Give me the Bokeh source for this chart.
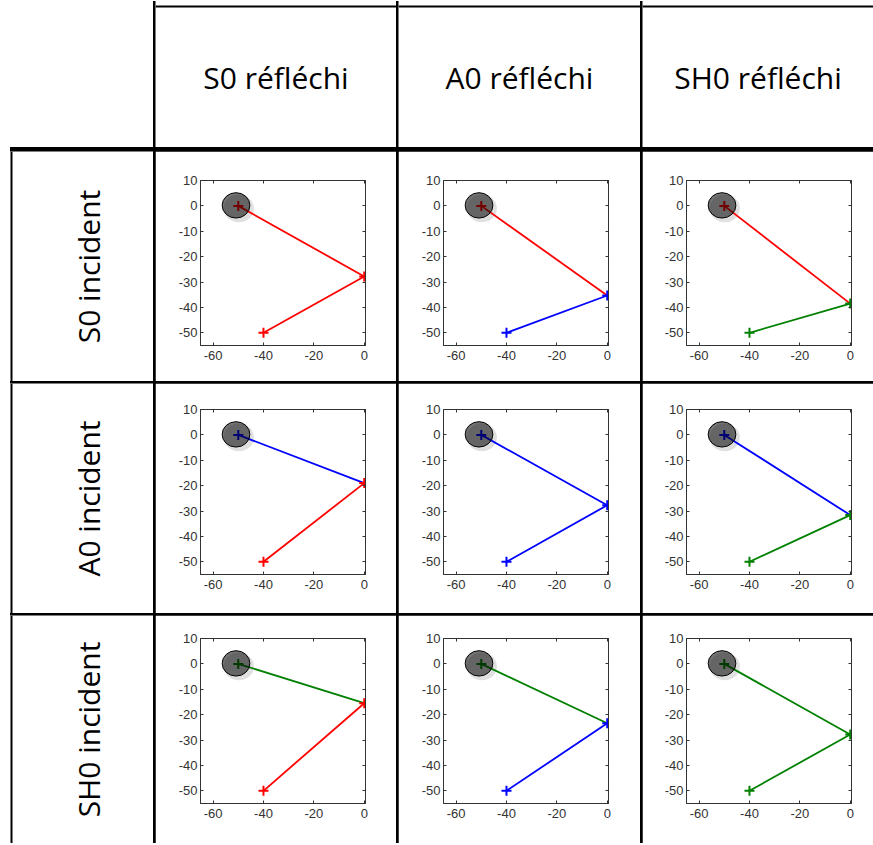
import math
from bokeh.plotting import figure
from bokeh.layouts import row, column
from bokeh.models import Range1d, FixedTicker, LinearAxis
from bokeh.core.properties import value
from bokeh.embed import file_html
from bokeh.resources import INLINE

# ---------------- data ----------------
modes = ["S0", "A0", "SH0"]
mode_colors = ["#ff0000", "#0000ff", "#008000"]
col_labels = ["S0 réfléchi", "A0 réfléchi", "SH0 réfléchi"]
row_labels = ["S0 incident", "A0 incident", "SH0 incident"]
source_x = -50.0
source_y = 0.0
receiver_x = -40.0
receiver_y = -50.0
reflect_x = 0.0
# rows: incident mode, columns: reflected mode
reflect_y = [
    [-27.8, -35.3, -38.5],
    [-19.0, -27.7, -31.6],
    [-15.5, -23.4, -27.8],
]
x_ticks = [-60, -40, -20, 0]
y_ticks = [10, 0, -10, -20, -30, -40, -50]
x_lim = (-65, 0.5)
y_lim = (-55, 10)

# ---------------- geometry / style ----------------
col_w = [153, 241, 242, 231]
row_h = [147, 230, 230, 228]
frame = 165
frame_left = [45, 45, 44]
frame_top = [29, 26, 23]
AX = "#333333"
HEAD_FONT = "Open Sans"
HEAD_SIZE = "30px"


def no_align(p):
    try:
        p.frame_align = False
    except Exception:
        pass


def blank_fig(w, h):
    p = figure(width=w, height=h, x_range=Range1d(0, w), y_range=Range1d(0, h),
               x_axis_type=None, y_axis_type=None, output_backend="svg",
               toolbar_location=None, min_border=0)
    p.outline_line_color = None
    p.background_fill_color = "white"
    p.border_fill_color = "white"
    no_align(p)
    return p


def header_fig(w, h, label):
    p = blank_fig(w, h)
    # top border of the table
    p.quad(left=[0], right=[w], bottom=[h - 7], top=[h - 5], fill_color="black", line_color=None)
    p.text(x=[w / 2], y=[h - 77], text=[label], text_align="center", text_baseline="middle",
           text_font=value(HEAD_FONT), text_font_size=HEAD_SIZE, text_color="black")
    return p


def row_header_fig(w, h, label):
    p = blank_fig(w, h)
    # left border of the table
    p.quad(left=[10], right=[12], bottom=[0], top=[h], fill_color="black", line_color=None)
    p.text(x=[88], y=[h / 2], text=[label], angle=math.pi / 2, text_align="center",
           text_baseline="middle", text_font=value(HEAD_FONT), text_font_size=HEAD_SIZE,
           text_color="black")
    return p


def style_axis(ax, ticks, labels=True, standoff=4):
    ax.ticker = FixedTicker(ticks=ticks)
    ax.major_tick_in = 3
    ax.major_tick_out = 0
    ax.minor_tick_line_color = None
    ax.axis_line_color = AX
    ax.major_tick_line_color = AX
    ax.major_label_standoff = standoff
    ax.major_label_text_font = "Liberation Sans"
    ax.major_label_text_font_size = "13px"
    ax.major_label_text_color = AX
    if labels:
        ax.major_label_overrides = {t: str(t) for t in ticks}
    else:
        ax.major_label_overrides = {t: "" for t in ticks}
        ax.major_label_text_color = None


def plot_fig(i, j):
    w = col_w[j + 1]
    h = row_h[i + 1]
    p = figure(width=w, height=h, x_range=Range1d(*x_lim), y_range=Range1d(*y_lim),
               output_backend="svg", toolbar_location=None,
               min_border_left=frame_left[j], min_border_right=w - frame_left[j] - frame,
               min_border_top=frame_top[i], min_border_bottom=h - frame_top[i] - frame)
    no_align(p)
    p.xgrid.visible = False
    p.ygrid.visible = False
    p.outline_line_color = AX
    p.outline_line_width = 1
    style_axis(p.xaxis[0], x_ticks, True, 5)
    style_axis(p.yaxis[0], y_ticks, True, 3)
    top = LinearAxis()
    style_axis(top, x_ticks, False, 0)
    right = LinearAxis()
    style_axis(right, y_ticks, False, 0)
    p.add_layout(top, "above")
    p.add_layout(right, "right")

    inc = mode_colors[i]
    ref = mode_colors[j]
    ry = reflect_y[i][j]
    # soft shadow of the source marker
    p.ellipse(x=[source_x + 0.2], y=[source_y - 1.0], width=12, height=11,
              fill_color="black", fill_alpha=0.12, line_color=None)
    p.line([source_x, reflect_x], [source_y, ry], line_color=inc, line_width=1.8)
    p.line([reflect_x, receiver_x], [ry, receiver_y], line_color=ref, line_width=1.8)
    p.scatter([source_x], [source_y], marker="cross", size=10, line_color=inc, line_width=2)
    p.scatter([reflect_x, receiver_x], [ry, receiver_y], marker="cross", size=10,
              line_color=ref, line_width=2)
    # grey source disc drawn on top
    p.ellipse(x=[source_x - 0.9], y=[source_y + 0.2], width=11, height=10,
              fill_color="black", fill_alpha=0.55, line_color="black", line_width=1)
    return p


corner = blank_fig(col_w[0], row_h[0])
heads = [header_fig(col_w[k + 1], row_h[0], col_labels[k]) for k in range(3)]
row0 = row(corner, *heads, spacing=2)

body_rows = []
for i in range(3):
    rh = row_header_fig(col_w[0], row_h[i + 1], row_labels[i])
    plots = [plot_fig(i, j) for j in range(3)]
    body_rows.append(row(rh, *plots, spacing=2))
body = column(*body_rows, spacing=2)

layout = column(row0, body, spacing=4,
                styles={"background-color": "black", "clip-path": "inset(1px 0px 0px 10px)"})

open("out.html", "w").write(file_html(layout, INLINE))
